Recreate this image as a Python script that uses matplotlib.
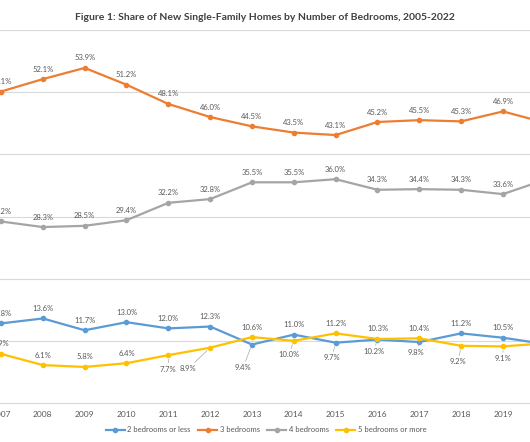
import matplotlib
matplotlib.use("Agg")
import matplotlib.pyplot as plt

plt.rcParams['font.family'] = ['Lato', 'DejaVu Sans']

# Dados (recorte visivel: 2007-2020)
anos = [2007, 2008, 2009, 2010, 2011, 2012, 2013, 2014, 2015, 2016, 2017, 2018, 2019, 2020]
dois_ou_menos = [12.8, 13.6, 11.7, 13.0, 12.0, 12.3, 9.4, 11.0, 9.7, 10.2, 9.8, 11.2, 10.5, 9.5]
tres = [50.1, 52.1, 53.9, 51.2, 48.1, 46.0, 44.5, 43.5, 43.1, 45.2, 45.5, 45.3, 46.9, 45.1]
quatro = [29.2, 28.3, 28.5, 29.4, 32.2, 32.8, 35.5, 35.5, 36.0, 34.3, 34.4, 34.3, 33.6, 35.9]
cinco_ou_mais = [7.9, 6.1, 5.8, 6.4, 7.7, 8.9, 10.6, 10.0, 11.2, 10.3, 10.4, 9.2, 9.1, 9.6]

series = [
    ("2 bedrooms or less", dois_ou_menos, "#5B9BD5"),
    ("3 bedrooms", tres, "#ED7D31"),
    ("4 bedrooms", quatro, "#A5A5A5"),
    ("5 bedrooms or more", cinco_ou_mais, "#FFC000"),
]

# rotulos abaixo do ponto (ano -> deslocamento em pixels)
abaixo = {
    "2 bedrooms or less": {2013: (-9, -23), 2015: (-4, -15), 2016: (-4, -12), 2017: (-3, -10)},
    "5 bedrooms or more": {2011: (0, -14), 2012: (-22, -21), 2014: (-5, -14),
                           2018: (-3, -16), 2019: (0, -12)},
}

fig = plt.figure(figsize=(5.30, 4.42), dpi=100)
ax = fig.add_axes([0, 39 / 442, 1, 373 / 442])

for nome, valores, cor in series:
    ax.plot(anos, valores, color=cor, lw=1.6, marker='o', markersize=3, label=nome, zorder=3)
    for ano, v in zip(anos, valores):
        if ano in abaixo.get(nome, {}):
            dx, dy = abaixo[nome][ano]
            ax.annotate(f"{v:.1f}%", (ano, v), xytext=(dx, dy), textcoords='offset pixels',
                        ha='center', va='center', fontsize=5.5, color='#595959',
                        arrowprops=dict(arrowstyle='-', color='#A6A6A6', lw=0.5,
                                        shrinkA=0, shrinkB=3))
        else:
            ax.annotate(f"{v:.1f}%", (ano, v), xytext=(0, 10), textcoords='offset pixels',
                        ha='center', va='center', fontsize=5.5, color='#595959',
                        annotation_clip=False)

ax.set_xticks(anos)
ax.set_xlim(2006.976, 2019.646)
ax.set_ylim(0, 60)
ax.set_yticks(range(0, 61, 10))
ax.set_yticklabels([])
ax.tick_params(axis='x', length=0, labelsize=6, colors='#595959', pad=6)
ax.tick_params(axis='y', length=0)
ax.grid(axis='y', color='#D9D9D9', lw=0.8)
ax.set_axisbelow(True)
for lado in ['top', 'left', 'right']:
    ax.spines[lado].set_visible(False)
ax.spines['bottom'].set_color('#D9D9D9')
ax.spines['bottom'].set_linewidth(0.8)

fig.text(265 / 530, 1 - 17 / 442,
         "Figure 1: Share of New Single-Family Homes by Number of Bedrooms, 2005-2022",
         ha='center', va='center', fontsize=7.5, fontweight='bold', color='#404040')

fig.legend(loc='center', bbox_to_anchor=(266 / 530, 1 - 430 / 442), ncol=4, frameon=False,
           fontsize=5.5, handlelength=2.5, columnspacing=1.0, handletextpad=0.3,
           labelcolor='#595959')

plt.savefig("out.png", dpi=100)
